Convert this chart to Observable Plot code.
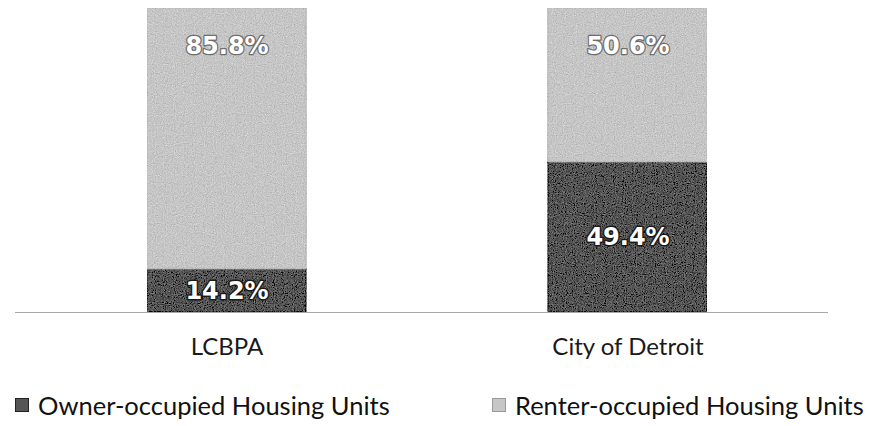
<!DOCTYPE html>
<html>
<head>
<meta charset="utf-8">
<script src="https://cdn.jsdelivr.net/npm/d3@7"></script>
<script src="https://cdn.jsdelivr.net/npm/@observablehq/plot@0.6"></script>
<style>
  html, body { margin: 0; padding: 0; background: #fff; }
  #wrap { position: relative; width: 871px; height: 426px; font-family: Lato, "Open Sans", sans-serif; overflow: hidden; }
  .leg { position: absolute; top: 391px; font-size: 25.5px; line-height: 28px; color: #111; display: flex; align-items: center; white-space: nowrap; }
  .sw { width: 12px; height: 12px; margin-right: 9px; display: inline-block; }
</style>
</head>
<body>
<div id="wrap">
  <div id="chart"></div>
</div>
<script>
const categories = ["LCBPA", "City of Detroit"];
const series = ["Owner-occupied Housing Units", "Renter-occupied Housing Units"];
const ownerValues = [14.2, 49.4];
const renterValues = [85.8, 50.6];
const seriesColors = ["#555555", "#c6c6c6"];

const rows = [];
categories.forEach((c, i) => {
  rows.push({category: c, series: series[0], value: ownerValues[i]});
  rows.push({category: c, series: series[1], value: renterValues[i]});
});
const ownerRows = categories.map((c, i) => ({category: c, value: ownerValues[i]}));
const renterRows = categories.map((c, i) => ({category: c, value: renterValues[i], top: ownerValues[i] + renterValues[i]}));

const chart = Plot.plot({
  width: 871,
  height: 375,
  marginTop: 8,
  marginBottom: 63,
  marginLeft: 15,
  marginRight: 43,
  style: {background: "#fff", fontFamily: "Lato, 'Open Sans', sans-serif"},
  x: {domain: categories, paddingInner: 0.604, paddingOuter: 0.314, align: 0.523, label: null},
  y: {domain: [0, 100], axis: null},
  color: {domain: series, range: seriesColors},
  marks: [
    Plot.barY(rows, {x: "category", y: "value", fill: "series", order: series, stroke: d => d.series === series[0] ? "#222" : "#bdbdbd", strokeWidth: 1.2}),
    Plot.ruleY([0], {stroke: "#a8a8a8", strokeWidth: 1}),
    Plot.text(ownerRows, {x: "category", y: d => d.value / 2, text: d => d.value.toFixed(1) + "%", fill: "#fff", stroke: "#1a1a1a", strokeWidth: 3, paintOrder: "stroke", fontWeight: "bold", fontSize: 24, fontFamily: "'DejaVu Sans', sans-serif"}),
    Plot.text(renterRows, {x: "category", y: "top", dy: 38, text: d => d.value.toFixed(1) + "%", fill: "#fff", stroke: "#6e6e6e", strokeWidth: 2.5, paintOrder: "stroke", fontWeight: "bold", fontSize: 24, fontFamily: "'DejaVu Sans', sans-serif"}),
    Plot.axisX({tickSize: 0, tickPadding: 25, fontSize: 24, fill: "#1a1a1a", label: null})
  ]
});

// grain texture resembling the scanned halftone
const svgNS = "http://www.w3.org/2000/svg";
const defs = document.createElementNS(svgNS, "defs");
defs.innerHTML = `
  <filter id="grain" x="0" y="0" width="100%" height="100%">
    <feTurbulence type="fractalNoise" baseFrequency="0.9" numOctaves="2" seed="3" result="noise"/>
    <feColorMatrix in="noise" type="matrix" values="0.33 0.33 0.33 0 0 0.33 0.33 0.33 0 0 0.33 0.33 0.33 0 0 0 0 0 0 1" result="gray"/>
    <feComposite in="SourceGraphic" in2="gray" operator="arithmetic" k1="0" k2="1" k3="0.7" k4="-0.35" result="mix"/>
    <feComposite in="mix" in2="SourceGraphic" operator="in"/>
  </filter>`;
chart.insertBefore(defs, chart.firstChild);
chart.querySelectorAll("g[aria-label='bar']").forEach(g => g.setAttribute("filter", "url(#grain)"));

document.getElementById("chart").appendChild(chart);

const wrap = document.getElementById("wrap");
const legPos = [15, 492];
series.forEach((s, i) => {
  const d = document.createElement("div");
  d.className = "leg";
  d.style.left = legPos[i] + "px";
  d.innerHTML = `<span class="sw" style="background:${seriesColors[i]};border:1px solid ${i===0?'#222':'#999'}"></span><span>${s}</span>`;
  wrap.appendChild(d);
});
</script>
</body>
</html>
